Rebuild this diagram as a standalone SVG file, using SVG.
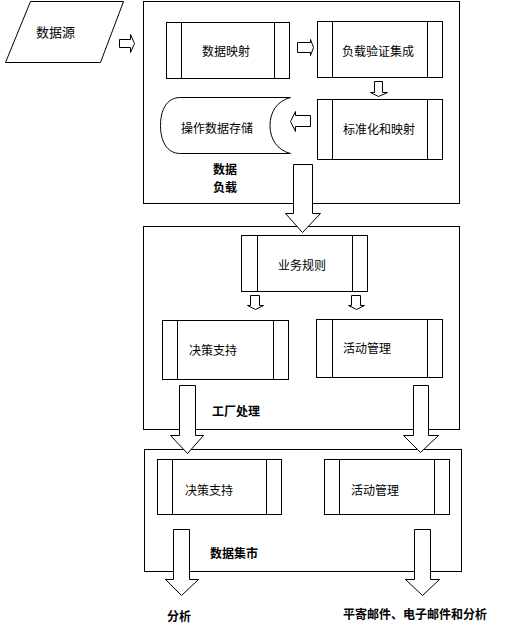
<svg xmlns="http://www.w3.org/2000/svg" width="508" height="627" viewBox="0 0 508 627">
<style>
.s{fill:#fff;stroke:#000;stroke-width:1}
.f{fill:none;stroke:#000;stroke-width:1}
.t{font-family:"Noto Sans CJK SC","Liberation Sans",sans-serif;font-size:12px;fill:#000;dominant-baseline:central}
.b{font-weight:bold}
</style>
<rect width="508" height="627" fill="#fff"/>
<g id="box-load"><rect class="s" x="143.5" y="1.5" width="316" height="202"/>
<text class="t b" x="213" y="168">数据</text><text class="t b" x="213" y="186.5">负载</text></g>
<g id="box-factory"><rect class="s" x="143.5" y="226.5" width="316" height="203"/>
<text class="t b" x="212" y="410">工厂处理</text></g>
<g id="box-mart"><rect class="s" x="144.5" y="449.5" width="317" height="122"/>
<text class="t b" x="210" y="552">数据集市</text></g>
<g id="source"><polygon class="s" points="30.5,1.5 123.5,1.5 100.5,62.5 5.5,62.5"/>
<text class="t" x="36" y="31" style="font-size:13px">数据源</text></g>
<g id="map"><rect class="s" x="166.5" y="22.5" width="123" height="56"/><path class="f" d="M181.5 22.5V78.5M274.5 22.5V78.5"/>
<text class="t" x="202" y="50">数据映射</text></g>
<g id="validate"><rect class="s" x="317.5" y="21.5" width="125" height="56"/><path class="f" d="M332.5 21.5V77.5M427.5 21.5V77.5"/>
<text class="t" x="342" y="50">负载验证集成</text></g>
<g id="standard"><rect class="s" x="317.5" y="99.5" width="125" height="60"/><path class="f" d="M332.5 99.5V159.5M427.5 99.5V159.5"/>
<text class="t" x="343" y="128">标准化和映射</text></g>
<g id="ods"><path class="s" d="M180.5 97.5H290.5C277 101 270 112 270 125.5C270 139 277 150 290.5 153.5H180.5C166 153.5 160.5 140 160.5 125.5C160.5 111 166 97.5 180.5 97.5Z"/>
<text class="t" x="181" y="127">操作数据存储</text></g>
<g id="rules"><rect class="s" x="241.5" y="235.5" width="126" height="56"/><path class="f" d="M257.5 235.5V291.5M352.5 235.5V291.5"/>
<text class="t" x="278" y="264">业务规则</text></g>
<g id="decision1"><rect class="s" x="162.5" y="320.5" width="126" height="59"/><path class="f" d="M177.5 320.5V379.5M273.5 320.5V379.5"/>
<text class="t" x="189" y="349">决策支持</text></g>
<g id="activity1"><rect class="s" x="316.5" y="319.5" width="126" height="58"/><path class="f" d="M332.5 319.5V377.5M427.5 319.5V377.5"/>
<text class="t" x="343" y="347">活动管理</text></g>
<g id="decision2"><rect class="s" x="157.5" y="459.5" width="124" height="55"/><path class="f" d="M172.5 459.5V514.5M266.5 459.5V514.5"/>
<text class="t" x="185" y="489">决策支持</text></g>
<g id="activity2"><rect class="s" x="324.5" y="459.5" width="125" height="55"/><path class="f" d="M339.5 459.5V514.5M434.5 459.5V514.5"/>
<text class="t" x="351" y="489">活动管理</text></g>
<g id="out-analysis"><text class="t b" x="167" y="615">分析</text></g>
<g id="out-mail"><text class="t b" x="343" y="613">平寄邮件、电子邮件和分析</text></g>
<g id="connectors">
<polygon class="s" points="119.5,39.5 130.5,39.5 130.5,34.5 134.5,43.5 130.5,52.5 130.5,47.5 119.5,47.5"/>
<polygon class="s" points="297.5,42.5 310.5,42.5 310.5,39.5 313.5,47.5 310.5,55.5 310.5,52.5 297.5,52.5"/>
<polygon class="s" points="374.5,81.5 382.5,81.5 382.5,92.5 387.5,92.5 378.5,96.5 370.5,92.5 374.5,92.5"/>
<polygon class="s" points="310.5,115.5 295.5,115.5 295.5,111.5 290.5,121.5 295.5,131.5 295.5,126.5 310.5,126.5"/>
<polygon class="s" points="293.5,164.5 312.5,164.5 312.5,213.5 320.5,213.5 302.5,232.5 285.5,213.5 293.5,213.5"/>
<polygon class="s" points="250.5,295.5 259.5,295.5 259.5,305.5 263.5,305.5 255.5,309.5 247.5,305.5 250.5,305.5"/>
<polygon class="s" points="351.5,295.5 360.5,295.5 360.5,305.5 364.5,305.5 356.5,309.5 348.5,305.5 351.5,305.5"/>
<polygon class="s" points="179.5,385.5 195.5,385.5 195.5,435.5 203.5,435.5 187.5,453.5 170.5,435.5 179.5,435.5"/>
<polygon class="s" points="413.5,385.5 428.5,385.5 428.5,435.5 438.5,435.5 420.5,452.5 403.5,435.5 413.5,435.5"/>
<polygon class="s" points="173.5,529.5 189.5,529.5 189.5,579.5 198.5,579.5 181.5,595.5 165.5,579.5 173.5,579.5"/>
<polygon class="s" points="414.5,529.5 430.5,529.5 430.5,579.5 439.5,579.5 422.5,595.5 405.5,579.5 414.5,579.5"/>
</g>
</svg>
